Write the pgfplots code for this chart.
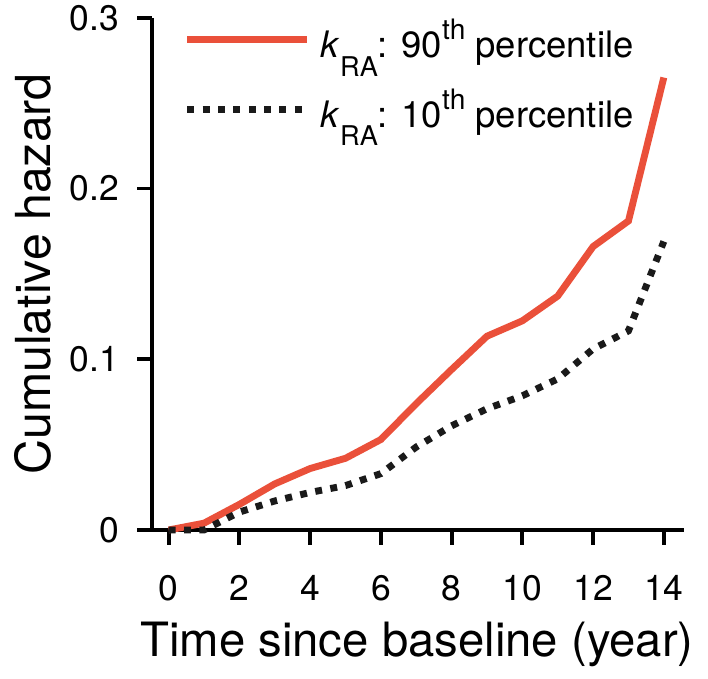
\documentclass[border=0pt]{standalone}
\usepackage{fontspec}
\setmainfont{TeX Gyre Heros}
\usepackage{pgfplots}
\pgfplotsset{compat=1.18}
\definecolor{redl}{RGB}{234,80,58}
\definecolor{blkd}{RGB}{26,26,26}
\newcommand{\kra}{\textit{k}\raisebox{-9.5pt}{\fontsize{13.8}{13.8}\selectfont RA}}
\newcommand{\thsup}{\raisebox{9pt}{\fontsize{14.3}{14.3}\selectfont th}}
\newcommand{\lgf}{\fontsize{18.5}{18.5}\selectfont}
\begin{document}
\begin{tikzpicture}
\begin{axis}[
  scale only axis,
  width=270pt, height=260pt,
  xmin=-0.47, xmax=14.57,
  ymin=0, ymax=0.3,
  axis x line=bottom, axis y line=left,
  axis line style={-, line width=2pt, black},
  tick style={line width=2pt, black},
  tick align=outside,
  major tick length=7.5pt,
  xtick={0,2,4,6,8,10,12,14},
  ytick={0,0.1,0.2,0.3},
  yticklabels={0,0.1,0.2,0.3},
  /pgf/number format/assume math mode=true,
  xticklabel style={font=\fontsize{18}{18}\selectfont, anchor=north, inner sep=0pt, yshift=-15.5pt},
  yticklabel style={font=\fontsize{18}{18}\selectfont, anchor=east, inner sep=0pt, xshift=-9pt},
  xlabel={Time since baseline (year)},
  ylabel={Cumulative hazard},
  label style={font=\fontsize{24}{24}\selectfont},
  xlabel style={at={(axis description cs:0.498,-0.2476)}, anchor=base},
  ylabel style={at={(axis description cs:-0.224,0.5)}, anchor=center, font=\fontsize{24.5}{24.5}\selectfont},
  clip=false,
  legend cell align=left,
  legend image code/.code={\draw[#1] (0pt,0pt) -- (61pt,0pt);},
  legend style={at={(axis description cs:0.059,1.0)}, yshift=-0.5pt, anchor=north west, draw=none, fill=none,
    font=\lgf, row sep=14.5pt, inner sep=0pt, nodes={inner sep=0pt, font=\lgf},
    /tikz/every odd column/.append style={column sep=5pt}},
]
\addplot[color=redl, line width=3.5pt] coordinates {
(0,0) (1,0.004) (2,0.015) (3,0.027) (4,0.036) (5,0.042) (6,0.053) (7,0.074) (8,0.094) (9,0.1135) (10,0.1225) (11,0.137) (12,0.166) (13,0.181) (14,0.265)
};
\addlegendentry{\lgf\kra: 90\thsup{} percentile}
\addplot[color=blkd, line width=3.5pt, dash pattern=on 3.5pt off 4.3pt] coordinates {
(0,0) (1,0.0) (2,0.0105) (3,0.017) (4,0.022) (5,0.026) (6,0.033) (7,0.0486) (8,0.061) (9,0.071) (10,0.0786) (11,0.0885) (12,0.106) (13,0.1166) (14,0.169)
};
\addlegendentry{\lgf\kra: 10\thsup{} percentile}
\end{axis}
\path ([xshift=-4pt]current bounding box.west) ([xshift=4pt]current bounding box.east)
      ([yshift=2.5pt]current bounding box.north) ([yshift=-2.5pt]current bounding box.south);
\end{tikzpicture}
\end{document}
